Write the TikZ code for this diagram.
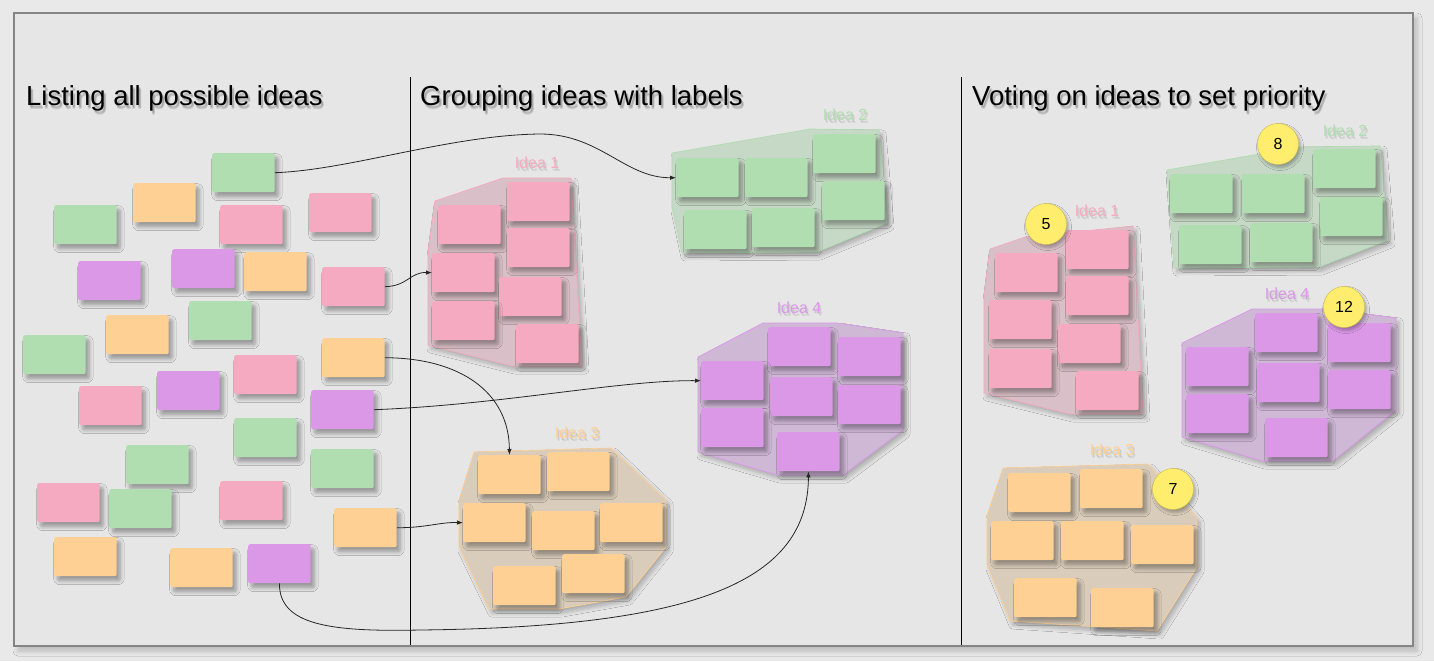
\documentclass[tikz,border=0pt]{standalone}
\usepackage{fontspec}
\setmainfont{Liberation Sans}
\usetikzlibrary{arrows.meta,shadows.blur}

\definecolor{bg}{HTML}{E9E9E9}
\definecolor{panel}{HTML}{E6E6E6}
\definecolor{frameline}{HTML}{858585}
\definecolor{ngreen}{HTML}{B0DEB0}
\definecolor{norange}{HTML}{FFD094}
\definecolor{npink}{HTML}{F5AAC1}
\definecolor{npurple}{HTML}{DA98E7}
\definecolor{hgreen}{HTML}{C6D8C6}
\definecolor{horange}{HTML}{D9CCBA}
\definecolor{hpink}{HTML}{D9BFC7}
\definecolor{hpurple}{HTML}{CFB7D6}
\definecolor{badgefill}{HTML}{FFEE6E}
\definecolor{badgeline}{HTML}{D2C050}

\tikzset{
  softshadow/.style={blur shadow={shadow xshift=3.5pt, shadow yshift=-4.5pt,
      shadow blur radius=4pt, shadow blur steps=6, shadow opacity=35}},
  note/.style={anchor=north west, minimum width=62.5pt, minimum height=39pt,
      inner sep=0pt, rounded corners=2pt, softshadow},
  ng/.style={note, fill=ngreen},
  no/.style={note, fill=norange},
  np/.style={note, fill=npink},
  nv/.style={note, fill=npurple},
  hull/.style={line width=0.7pt, line join=round,
      blur shadow={shadow xshift=3pt, shadow yshift=-4pt,
      shadow blur radius=4pt, shadow blur steps=6, shadow opacity=25}},
  titlefont/.style={font=\fontsize{27.5}{32}\selectfont, inner sep=0pt},
  labelfont/.style={font=\fontsize{16}{19}\selectfont, inner sep=0pt},
  badge/.style={circle, minimum size=41pt, inner sep=0pt, fill=badgefill,
      draw=badgeline, line width=0.5pt, font=\fontsize{16}{19}\selectfont,
      blur shadow={shadow xshift=2pt, shadow yshift=-3pt,
      shadow blur radius=3pt, shadow blur steps=5, shadow opacity=30}},
  divider/.style={draw=black, line width=0.8pt},
  conn/.style={draw=black!85, line width=0.8pt,
      -{Latex[length=6pt,width=4.5pt]}},
}

% heading with a soft grey drop shadow
\newcommand\titletext[4]{%
  \foreach \dx/\dy [count=\k] in {1.5/-2.5,2.5/-3.5,2/-4.5}{%
    \node[titlefont, anchor=base west, text=black, text opacity=0.1,
          xshift=\dx pt, yshift=\dy pt] (#1s\k) at (#2,#3) {#4};}
  \node[titlefont, anchor=base west] (#1) at (#2,#3) {#4};}

% group caption with a faint shadow
\newcommand\grouplabel[5]{%
  \foreach \dx/\dy [count=\k] in {1/-2,2/-3}{%
    \node[labelfont, text=black, text opacity=0.07,
          xshift=\dx pt, yshift=\dy pt] (#1s\k) at (#3,#4) {#5};}
  \node[labelfont, text=#2] (#1) at (#3,#4) {#5};}

\begin{document}
\begin{tikzpicture}[x=1pt,y=-1pt]
\useasboundingbox (0,0) rectangle (1434,661);
\fill[bg] (0,0) rectangle (1434,661);

% board frame
\path[fill=panel, draw=frameline, line width=1.5pt,
      blur shadow={shadow xshift=4pt, shadow yshift=-5pt,
      shadow blur radius=5pt, shadow blur steps=6, shadow opacity=20}]
  (14,13) rectangle (1413,646);

% column dividers
\draw[divider] (410,77) -- (410,645);
\draw[divider] (961,77) -- (961,645);

% headings
\titletext{t1}{26}{105}{Listing all possible ideas}
\titletext{t2}{420}{105}{Grouping ideas with labels}
\titletext{t3}{972}{105}{Voting on ideas to set priority}

% ---------- column 1: loose notes ----------
\node[ng] (L1)  at (212,153) {};
\node[no] (L2)  at (133,183) {};
\node[ng] (L3)  at (54,205)  {};
\node[np] (L4)  at (220,205) {};
\node[np] (L5)  at (309,193) {};
\node[nv] (L6)  at (78,261)  {};
\node[nv] (L7)  at (172,249) {};
\node[no] (L8)  at (244,252) {};
\node[np] (L9)  at (322,267) {};
\node[ng] (L10) at (189,301) {};
\node[no] (L11) at (106,315) {};
\node[ng] (L12) at (23,335)  {};
\node[no] (L13) at (322,338) {};
\node[np] (L14) at (234,355) {};
\node[nv] (L15) at (157,371) {};
\node[nv] (L16) at (311,390) {};
\node[np] (L17) at (79,386)  {};
\node[ng] (L18) at (234,418) {};
\node[ng] (L19) at (126,445) {};
\node[ng] (L20) at (311,449) {};
\node[np] (L21) at (37,483)  {};
\node[ng] (L22) at (109,489) {};
\node[np] (L23) at (220,481) {};
\node[no] (L24) at (334,508) {};
\node[no] (L25) at (54,537)  {};
\node[no] (L26) at (170,548) {};
\node[nv] (L27) at (248,544) {};

% ---------- column 2: grouped notes ----------
\path[hull, fill=hpink, draw=npink]
  (435,201) -- (503,178) -- (571,178) -- (582,366) -- (512,366) -- (428,345) -- (428,253) -- cycle;
\path[hull, fill=hgreen, draw=ngreen]
  (672,153) -- (810,129) -- (879,130) -- (887,223) -- (817,252) -- (682,253) -- (672,207) -- cycle;
\path[hull, fill=hpurple, draw=npurple]
  (698,357) -- (763,323) -- (837,323) -- (903,333) -- (903,430) -- (843,475) -- (777,475) -- (698,452) -- cycle;
\path[hull, fill=horange, draw=norange]
  (474,452) -- (611,448) -- (666,500) -- (666,547) -- (626,597) -- (559,609) -- (489,609) -- (459,547) -- (459,500) -- cycle;

\grouplabel{m1}{npink}{537}{163}{Idea 1}
\grouplabel{m2}{ngreen}{845}{115}{Idea 2}
\grouplabel{m4}{npurple}{799}{308}{Idea 4}
\grouplabel{m3}{norange}{577}{433}{Idea 3}

\node[np] (a1) at (438,205) {};
\node[np] (a2) at (507,182) {};
\node[np] (a3) at (507,228) {};
\node[np] (a4) at (432,253) {};
\node[np] (a5) at (499,277) {};
\node[np] (a6) at (432,301) {};
\node[np] (a7) at (516,324) {};

\node[ng] (b1) at (676,158) {};
\node[ng] (b2) at (745,158) {};
\node[ng] (b3) at (813,134) {};
\node[ng] (b4) at (822,181) {};
\node[ng] (b5) at (684,210) {};
\node[ng] (b6) at (752,208) {};

\node[no] (c1) at (478,455) {};
\node[no] (c2) at (547,452) {};
\node[no] (c3) at (463,503) {};
\node[no] (c4) at (532,511) {};
\node[no] (c5) at (600,503) {};
\node[no] (c6) at (493,566) {};
\node[no] (c7) at (562,554) {};

\node[nv] (d1) at (768,327) {};
\node[nv] (d2) at (838,337) {};
\node[nv] (d3) at (701,361) {};
\node[nv] (d4) at (770,377) {};
\node[nv] (d5) at (838,385) {};
\node[nv] (d6) at (701,408) {};
\node[nv] (d7) at (777,432) {};

% ---------- column 3: voted groups ----------
\path[hull, fill=hpink, draw=npink]
  (990,249) -- (1025,237) -- (1133,226) -- (1143,414) -- (1070,414) -- (984,393) -- (984,297) -- cycle;
\path[hull, fill=hgreen, draw=ngreen]
  (1167,170) -- (1300,147) -- (1380,146) -- (1388,240) -- (1319,267) -- (1174,268) -- cycle;
\path[hull, fill=hpurple, draw=npurple]
  (1182,343) -- (1252,309) -- (1325,309) -- (1396,318) -- (1396,410) -- (1333,461) -- (1262,461) -- (1182,437) -- cycle;
\path[hull, fill=horange, draw=norange]
  (1003,468) -- (1148,464) -- (1197,518) -- (1197,567) -- (1157,631) -- (1010,621) -- (987,565) -- (987,515) -- cycle;

\grouplabel{r1}{npink}{1097}{211}{Idea 1}
\grouplabel{r2}{ngreen}{1345}{131}{Idea 2}
\grouplabel{r4}{npurple}{1287}{294}{Idea 4}
\grouplabel{r3}{norange}{1112}{450}{Idea 3}

\node[np] (e1) at (995,253)  {};
\node[np] (e2) at (1066,230) {};
\node[np] (e3) at (1066,276) {};
\node[np] (e4) at (989,300)  {};
\node[np] (e5) at (1058,324) {};
\node[np] (e6) at (989,349)  {};
\node[np] (e7) at (1076,371) {};

\node[ng] (f1) at (1170,174) {};
\node[ng] (f2) at (1242,174) {};
\node[ng] (f3) at (1313,149) {};
\node[ng] (f4) at (1320,197) {};
\node[ng] (f5) at (1179,225) {};
\node[ng] (f6) at (1250,223) {};

\node[nv] (g1) at (1255,313) {};
\node[nv] (g2) at (1328,323) {};
\node[nv] (g3) at (1186,347) {};
\node[nv] (g4) at (1257,363) {};
\node[nv] (g5) at (1328,370) {};
\node[nv] (g6) at (1186,394) {};
\node[nv] (g7) at (1265,418) {};

\node[no] (h1) at (1008,473) {};
\node[no] (h2) at (1080,469) {};
\node[no] (h3) at (991,521)  {};
\node[no] (h4) at (1061,521) {};
\node[no] (h5) at (1131,525) {};
\node[no] (h6) at (1014,578) {};
\node[no] (h7) at (1091,588) {};

% vote counts
\node[badge] (v1) at (1046,224) {5};
\node[badge] (v2) at (1278,144) {8};
\node[badge] (v4) at (1344,307) {12};
\node[badge] (v3) at (1173,489) {7};

% ---------- moves from column 1 into groups ----------
\draw[conn] (L1.east) .. controls (350,170) and (450,135) .. (540,134)
                      .. controls (600,134) and (625,178) .. (b1.west);
\draw[conn] (L9.east) .. controls (408,286) and (410,272) .. (a4.west);
\draw[conn] (L13.east) .. controls (460,358) and (509,392) .. (c1.north);
\draw[conn] (L16.east) .. controls (500,405) and (620,380) .. (d3.west);
\draw[conn] (L24.east) .. controls (425,528) and (440,522) .. (c3.west);
\draw[conn] (L27.south) .. controls (279,625) and (330,632) .. (420,630)
                        .. controls (700,627) and (808,580) .. (d7.south);
\end{tikzpicture}
\end{document}
